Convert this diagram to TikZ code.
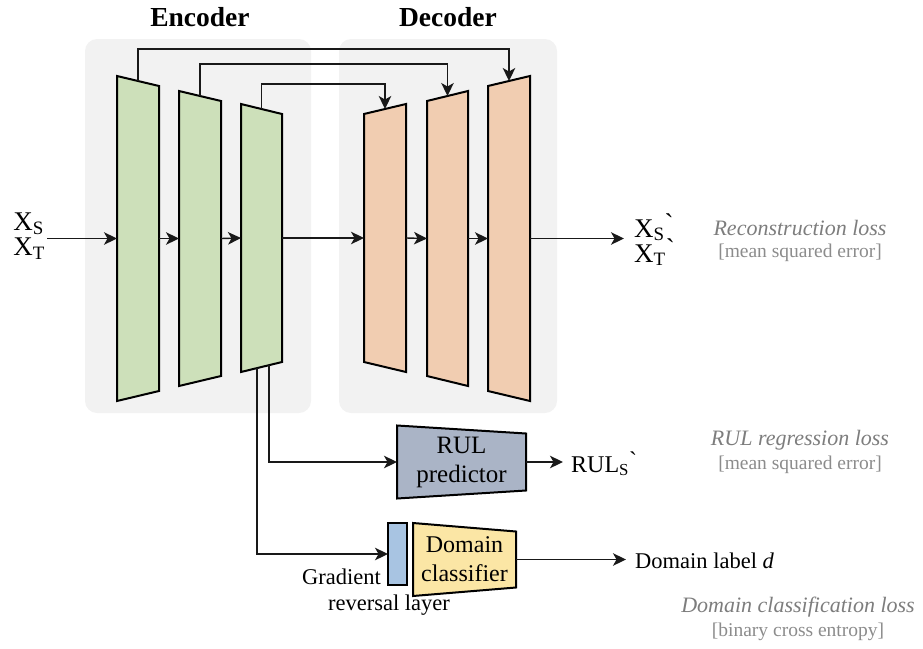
\documentclass[tikz,border=0pt]{standalone}
\usepackage{fontspec}
\setmainfont{Liberation Serif}
\newfontfamily\gravefont{Liberation Serif}[Ligatures=TeXOff]
\usetikzlibrary{arrows.meta,calc}
\definecolor{bggray}{RGB}{242,242,242}
\definecolor{encgreen}{RGB}{205,224,186}
\definecolor{decpeach}{RGB}{241,205,177}
\definecolor{rulblue}{RGB}{170,180,198}
\definecolor{grlblue}{RGB}{168,196,226}
\definecolor{dcyellow}{RGB}{251,230,165}
\definecolor{lossgray}{RGB}{125,125,125}
\definecolor{brgray}{RGB}{140,140,140}
\newcommand\grv{\raisebox{0.15em}{\gravefont\char"60}}
\pgfdeclarelayer{bglayer}
\pgfdeclarelayer{midlayer}
\pgfsetlayers{bglayer,midlayer,main}
\tikzset{
  lbox/.style={inner sep=0pt,outer sep=0pt,draw=none},
  shapeline/.style={draw=black,line width=2pt,line join=miter},
  conn/.style={draw=black!90,line width=1.4pt},
  arr/.style={conn,-{Stealth[length=13pt,width=12.5pt,inset=3.5pt]}},
  bgbox/.style={fill=bggray,draw=none,rounded corners=12pt,inner sep=0pt,outer sep=0pt},
  maintext/.style={font=\fontsize{22}{26}\selectfont,inner sep=2pt},
  boxtext/.style={font=\fontsize{24}{29}\selectfont,align=center,inner sep=0pt},
  xtext/.style={font=\fontsize{27}{30}\selectfont,align=left,inner sep=2pt},
  titletext/.style={font=\fontsize{27.5}{30}\selectfont\bfseries,inner sep=0pt},
  losstext/.style={font=\fontsize{22}{26}\selectfont\itshape,text=lossgray,inner sep=0pt},
  brtext/.style={font=\fontsize{19.5}{23}\selectfont,text=brgray,inner sep=0pt},
}
\begin{document}
\begin{tikzpicture}[x=1pt,y=-1pt]
\useasboundingbox (0,0) rectangle (923,648);
% backgrounds
\begin{pgfonlayer}{bglayer}
\node[bgbox,minimum width=226pt,minimum height=374pt] (encbg) at (198,226) {};
\node[bgbox,minimum width=218pt,minimum height=374pt] (decbg) at (448,226) {};
\end{pgfonlayer}
% titles
\node[titletext] (enct) at (200,17) {Encoder};
\node[titletext] (dect) at (448,17) {Decoder};
% encoder / decoder layers
\node[lbox,minimum width=42pt,minimum height=325pt] (e1) at (138,238.5) {};
\node[lbox,minimum width=42pt,minimum height=295pt] (e2) at (200,238.5) {};
\node[lbox,minimum width=41pt,minimum height=268pt] (e3) at (261.5,238) {};
\node[lbox,minimum width=42pt,minimum height=268pt] (d1) at (385,238) {};
\node[lbox,minimum width=41pt,minimum height=295pt] (d2) at (447.5,238.5) {};
\node[lbox,minimum width=42pt,minimum height=325pt] (d3) at (509,238.5) {};
\begin{pgfonlayer}{midlayer}
\foreach \n in {e1,e2,e3}{
  \draw[shapeline,fill=encgreen] (\n.north west) -- ($(\n.north east)+(0,10)$) -- ($(\n.south east)+(0,-10)$) -- (\n.south west) -- cycle;
}
\foreach \n in {d1,d2,d3}{
  \draw[shapeline,fill=decpeach] ($(\n.north west)+(0,10)$) -- (\n.north east) -- (\n.south east) -- ($(\n.south west)+(0,-10)$) -- cycle;
}
\end{pgfonlayer}
% input / output labels
\node[xtext,anchor=east] (xin) at (47,236) {X\textsubscript{S}\\[-5pt]X\textsubscript{T}};
\node[xtext,anchor=west] (xout) at (632,240) {X\textsubscript{S}\grv\\[-5pt]X\textsubscript{T}\grv};
\draw[arr] (xin.east |- e1.west) -- (e1.west);
\draw[arr] (e1.east) -- (e2.west);
\draw[arr] (e2.east) -- (e3.west);
\draw[arr] (e3.east) -- (d1.west);
\draw[arr] (d1.east) -- (d2.west);
\draw[arr] (d2.east) -- (d3.west);
\draw[arr] (d3.east) -- ($(xout.west |- d3.east)+(-8,0)$);
% skip connections
\draw[arr] ($(e1.north)+(0,5)$) -- ++(0,-32) -| ($(d3.north)+(0,5)$);
\draw[arr] ($(e2.north)+(0,5)$) -- ++(0,-32) -| ($(d2.north)+(0,5)$);
\draw[arr] ($(e3.north)+(0,5)$) -- ++(0,-25) -| ($(d1.north)+(0,5)$);
% RUL predictor
\node[lbox,minimum width=129pt,minimum height=73pt] (rul) at (461.5,462) {};
\begin{pgfonlayer}{midlayer}
\draw[shapeline,fill=rulblue] (rul.north west) -- ($(rul.north east)+(0,8)$) -- ($(rul.south east)+(0,-8)$) -- (rul.south west) -- cycle;
\end{pgfonlayer}
\node[boxtext,font=\fontsize{25}{29}\selectfont] (rult) at (rul.center) {RUL\\predictor};
\node[maintext,anchor=west,font=\fontsize{24}{27}\selectfont] (rullab) at (569,464) {RUL\textsubscript{S}\grv};
\draw[arr] (rul.east) -- ($(rullab.west |- rul.east)+(-6,0)$);
% GRL and domain classifier
\node[lbox,minimum width=19pt,minimum height=62pt,shapeline,fill=grlblue,line width=1.6pt] (grl) at (397.5,554) {};
\node[lbox,minimum width=103pt,minimum height=73pt] (dc) at (464.5,559.5) {};
\begin{pgfonlayer}{midlayer}
\draw[shapeline,fill=dcyellow] (dc.north west) -- ($(dc.north east)+(0,8.5)$) -- ($(dc.south east)+(0,-8.5)$) -- (dc.south west) -- cycle;
\end{pgfonlayer}
\node[boxtext] (dct) at (dc.center) {Domain\\classifier};
\node[maintext,anchor=west,font=\fontsize{22.5}{26}\selectfont] (dl) at (633,561) {Domain label \textit{d}};
\draw[arr] (dc.east) -- ($(dl.west |- dc.east)+(-7,0)$);
\node[maintext,anchor=east,font=\fontsize{22.5}{26}\selectfont] (gr1) at (383,577) {Gradient};
\node[maintext,font=\fontsize{22.5}{26}\selectfont] (gr2) at (389,605) {reversal layer};
% branches from encoder bottom
\draw[arr] ($(e3.south)+(-4.5,-3.9)$) |- (grl.west);
\draw[arr] ($(e3.south)+(7.5,-6.8)$) |- (rul.west);
% loss labels
\node[losstext] (l1) at (800,228) {Reconstruction loss};
\node[brtext] (b1) at (800,253) {[mean squared error]};
\node[losstext] (l2) at (800,440) {RUL regression loss};
\node[brtext] (b2) at (800,465) {[mean squared error]};
\node[losstext] (l3) at (798,607) {Domain classification loss};
\node[brtext] (b3) at (798,632) {[binary cross entropy]};
\end{tikzpicture}
\end{document}
